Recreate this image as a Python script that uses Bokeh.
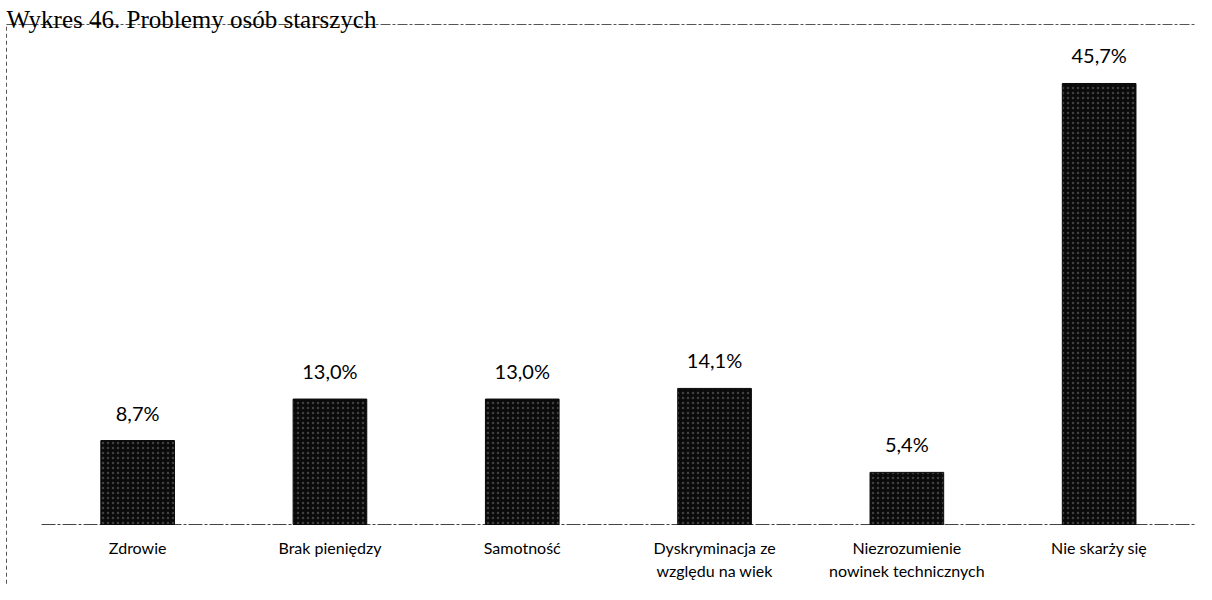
from bokeh.plotting import figure
from bokeh.models import ColumnDataSource, Range1d
from bokeh.core.properties import value
from bokeh.embed import file_html
from bokeh.resources import INLINE

# ---- data ----
title_text = "Wykres 46. Problemy osób starszych"
categories = [
    "Zdrowie",
    "Brak pieniędzy",
    "Samotność",
    "Dyskryminacja ze\nwzględu na wiek",
    "Niezrozumienie\nnowinek technicznych",
    "Nie skarży się",
]
values_pct = [8.7, 13.0, 13.0, 14.1, 5.4, 45.7]
value_labels = ["8,7%", "13,0%", "13,0%", "14,1%", "5,4%", "45,7%"]

# ---- layout constants ----
W, H = 1196, 584
CAT_PX = 192.3      # pixels per category
PCT_PX = 9.65       # pixels per percent
LEFT_PAD = 41       # pixels from canvas left to first category
BOTTOM_PAD = 60     # pixels from canvas bottom to zero line

x_start = -LEFT_PAD / CAT_PX
x_end = x_start + W / CAT_PX
y_start = -BOTTOM_PAD / PCT_PX
y_end = y_start + H / PCT_PX

xs = [i + 0.5 for i in range(len(categories))]
src = ColumnDataSource(dict(x=xs, v=values_pct, lab=value_labels, cat=categories))

p = figure(width=W, height=H, x_range=Range1d(x_start, x_end), y_range=Range1d(y_start, y_end),
           output_backend="svg", toolbar_location=None, x_axis_type=None, y_axis_type=None,
           min_border=0, title=None)
p.grid.visible = False
p.outline_line_color = None
p.background_fill_color = "white"
p.border_fill_color = "white"

# scanned frame (left + top)
fx = x_start + 6 / CAT_PX
fy = y_end - 24 / PCT_PX
p.line(x=[fx, fx], y=[y_start - 5, fy], line_color="#555555", line_width=1, line_dash="4 3")
p.line(x=[fx, x_end + 1], y=[fy, fy], line_color="#555555", line_width=1, line_dash="10 2 3 2")

# title
p.text(x=[x_start + 6 / CAT_PX], y=[y_end - 19 / PCT_PX], text=[title_text],
       text_font=value("Liberation Serif"), text_font_size="25px", text_color="black",
       text_baseline="alphabetic", text_align="left")

# baseline axis line
p.line(x=[0, len(categories)], y=[0, 0], line_color="#444444", line_width=1.2, line_dash="14 2 3 2")

# bars
p.vbar(x="x", top="v", bottom=0, width=0.383, source=src, fill_color="#0a0a0a", line_color="#0a0a0a",
       hatch_pattern="dot", hatch_color="white", hatch_alpha=0.22, hatch_scale=5, hatch_weight=1)

# value labels
p.text(x="x", y="v", text="lab", source=src, y_offset=-28, text_baseline="alphabetic",
       text_align="center", text_font=value("Lato"), text_font_size="20px", text_color="black")

# category labels
p.text(x="x", y=0, text="cat", source=src, y_offset=13, text_baseline="top",
       text_align="center", text_font=value("Lato"), text_font_size="16px", text_color="black",
       text_line_height=1.25)

open("out.html", "w").write(file_html(p, INLINE))
